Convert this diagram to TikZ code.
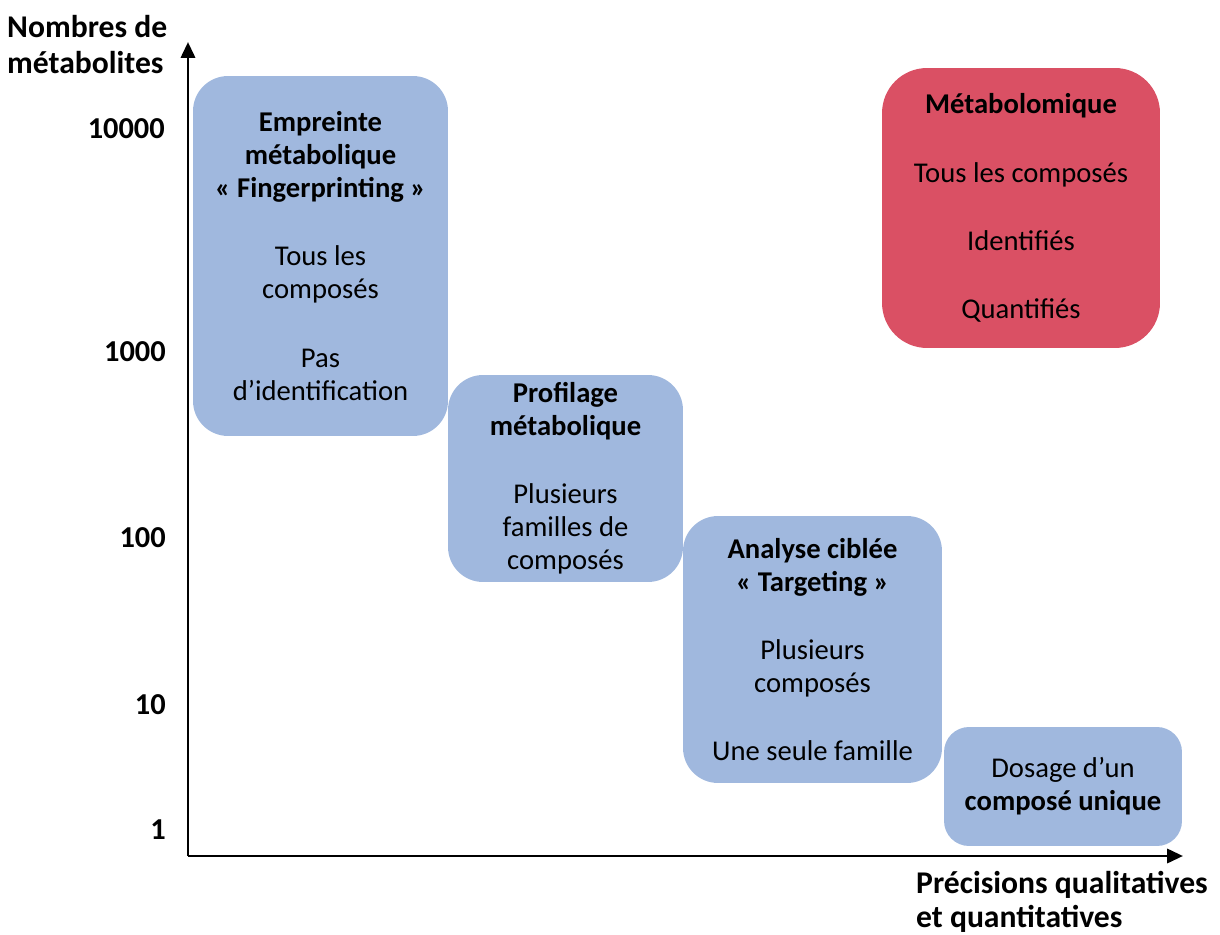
\documentclass[tikz,border=0pt]{standalone}
\usepackage{fontspec}
\setmainfont{Carlito}
\usetikzlibrary{arrows.meta}
\definecolor{boxblue}{RGB}{160,184,222}
\definecolor{boxred}{RGB}{218,80,100}
\tikzset{
  zone/.style={fill=boxblue,rounded corners=0.7cm,inner sep=0pt,align=center,
    font=\fontsize{16.3}{18.8}\selectfont},
  zonered/.style={zone,fill=boxred},
  axe/.style={line width=1.7pt,-{Triangle[length=9pt,width=8pt]}},
  graduation/.style={anchor=east,font=\fontsize{17.3}{20}\selectfont\bfseries},
  titreaxe/.style={align=left,anchor=west,font=\fontsize{18}{19.5}\selectfont\bfseries}
}
\begin{document}
\begin{tikzpicture}[x=0.02cm,y=-0.02cm]
\useasboundingbox (0,0) rectangle (1220,935);

% les zones
\node[zone,minimum width=5.1cm,minimum height=7.2cm] (empreinte) at (320.5,256)
  {\textbf{Empreinte}\\ \textbf{métabolique}\\ \textbf{« Fingerprinting »}\\[20pt]
   Tous les\\ composés\\[20pt] Pas\\ d’identification};
\node[zone,minimum width=4.7cm,minimum height=4.14cm] (profilage) at (565.5,478.5)
  {\textbf{Profilage}\\ \textbf{métabolique}\\[20pt] Plusieurs\\ familles de\\ composés};
\node[zone,minimum width=5.18cm,minimum height=5.34cm] (ciblee) at (812.5,649.5)
  {\textbf{Analyse ciblée}\\ \textbf{« Targeting »}\\[20pt] Plusieurs\\ composés\\[20pt] Une seule famille};
\node[zone,minimum width=4.76cm,minimum height=2.38cm,rounded corners=0.5cm] (dosage) at (1063,786.5)
  {Dosage d’un\\ \textbf{composé unique}};
\node[zonered,minimum width=5.56cm,minimum height=5.6cm,rounded corners=0.9cm] (metabolomique) at (1021,208)
  {\textbf{Métabolomique}\\[20pt] Tous les composés\\[20pt] Identifiés\\[20pt] Quantifiés};

% les axes
\coordinate (origine) at (188,856);
\coordinate (haut) at (188,42);
\coordinate (droite) at (1183,856);
\draw[axe] (origine) -- (haut);
\draw[axe] (origine) -- (droite);

\node[graduation] (g10000) at (171,129) {10000};
\node[graduation] (g1000) at (172,352) {1000};
\node[graduation] (g100) at (172,538) {100};
\node[graduation] (g10) at (172,705) {10};
\node[graduation] (g1) at (172,830) {1};

\node[titreaxe] (nombres) at (1,45) {Nombres de\\[1pt] métabolites};
\node[titreaxe] (precisions) at (910,902) {Précisions qualitatives\\ et quantitatives};
\end{tikzpicture}
\end{document}
